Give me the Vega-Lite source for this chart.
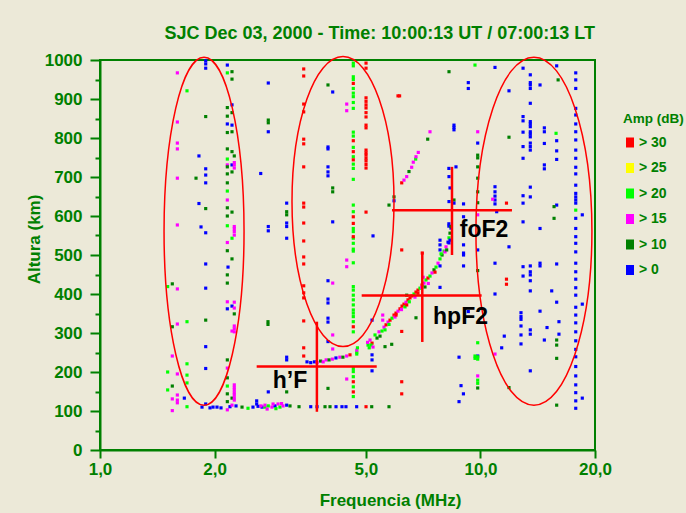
{
  "$schema": "https://vega.github.io/schema/vega-lite/v6.json",
  "width": 495,
  "height": 390,
  "autosize": {"type": "none"},
  "padding": {"left": 100, "top": 60, "right": 91, "bottom": 63},
  "background": "#ece9d8",
  "title": {
    "text": "SJC Dec 03, 2000 - Time: 10:00:13 UT / 07:00:13 LT",
    "anchor": "end",
    "frame": "group",
    "fontSize": 18,
    "fontWeight": "bold",
    "color": "#008000",
    "font": "Liberation Sans",
    "offset": 8
  },
  "config": {
    "font": "Liberation Sans",
    "view": {"stroke": "#008000", "strokeWidth": 2}
  },
  "resolve": {"axis": {"y": "independent"}},
  "datasets": {
    "pts": [
      {"f":1.597,"h":967,"a":15},{"f":1.597,"h":841,"a":15},{"f":1.597,"h":787,"a":15},{"f":1.597,"h":772,"a":15},{"f":1.597,"h":697,"a":15},{"f":1.597,"h":577,"a":15},{"f":1.597,"h":413,"a":15},{"f":1.597,"h":323,"a":15},{"f":1.597,"h":195,"a":15},{"f":1.597,"h":141,"a":15},{"f":1.597,"h":128,"a":15},{"f":1.597,"h":121,"a":15},
      {"f":1.693,"h":921,"a":20},{"f":1.693,"h":329,"a":20},{"f":1.693,"h":221,"a":20},{"f":1.693,"h":192,"a":20},{"f":1.693,"h":172,"a":20},{"f":1.693,"h":111,"a":20},
      {"f":1.788,"h":697,"a":10},{"f":1.820,"h":754,"a":0},{"f":1.820,"h":632,"a":0},{"f":1.843,"h":572,"a":0},
      {"f":1.896,"h":998,"a":0},{"f":1.896,"h":990,"a":0},{"f":1.896,"h":979,"a":0},{"f":1.896,"h":721,"a":0},{"f":1.896,"h":705,"a":0},{"f":1.896,"h":685,"a":0},{"f":1.896,"h":557,"a":0},{"f":1.896,"h":477,"a":0},{"f":1.896,"h":415,"a":0},{"f":1.896,"h":265,"a":0},{"f":1.896,"h":209,"a":0},{"f":1.896,"h":118,"a":0},
      {"f":1.896,"h":855,"a":10},{"f":1.896,"h":619,"a":10},{"f":1.896,"h":333,"a":10},
      {"f":2.161,"h":987,"a":0},{"f":2.161,"h":967,"a":20},{"f":2.161,"h":878,"a":10},{"f":2.161,"h":856,"a":10},{"f":2.161,"h":836,"a":0},{"f":2.161,"h":814,"a":10},{"f":2.161,"h":772,"a":10},{"f":2.161,"h":746,"a":20},{"f":2.161,"h":731,"a":15},{"f":2.161,"h":726,"a":10},{"f":2.161,"h":708,"a":10},{"f":2.161,"h":685,"a":10},{"f":2.161,"h":664,"a":20},{"f":2.161,"h":641,"a":15},{"f":2.161,"h":621,"a":10},{"f":2.161,"h":600,"a":10},{"f":2.161,"h":575,"a":20},{"f":2.161,"h":532,"a":15},{"f":2.161,"h":511,"a":10},{"f":2.161,"h":449,"a":10},{"f":2.161,"h":428,"a":10},{"f":2.161,"h":380,"a":15},{"f":2.161,"h":362,"a":0},{"f":2.161,"h":231,"a":10},{"f":2.161,"h":210,"a":15},{"f":2.161,"h":185,"a":10},{"f":2.161,"h":164,"a":20},{"f":2.161,"h":144,"a":10},{"f":2.161,"h":124,"a":10},{"f":2.161,"h":103,"a":15},{"f":2.17,"h":469,"a":0},
      {"f":2.223,"h":970,"a":10},{"f":2.223,"h":951,"a":10},{"f":2.223,"h":885,"a":0},{"f":2.223,"h":865,"a":10},{"f":2.223,"h":833,"a":0},{"f":2.223,"h":816,"a":10},{"f":2.223,"h":765,"a":10},{"f":2.223,"h":731,"a":0},{"f":2.223,"h":713,"a":10},{"f":2.223,"h":610,"a":10},{"f":2.223,"h":543,"a":20},{"f":2.223,"h":490,"a":10},{"f":2.223,"h":369,"a":0},{"f":2.223,"h":305,"a":15},{"f":2.223,"h":133,"a":10},
      {"f":2.254,"h":754,"a":10},{"f":2.254,"h":737,"a":15},{"f":2.254,"h":731,"a":15},{"f":2.254,"h":723,"a":15},{"f":2.254,"h":573,"a":15},{"f":2.254,"h":567,"a":15},{"f":2.254,"h":560,"a":15},{"f":2.254,"h":551,"a":15},{"f":2.254,"h":379,"a":15},{"f":2.254,"h":364,"a":15},{"f":2.254,"h":349,"a":10},{"f":2.254,"h":318,"a":15},{"f":2.254,"h":311,"a":15},{"f":2.254,"h":303,"a":15},{"f":2.254,"h":167,"a":15},{"f":2.254,"h":160,"a":15},{"f":2.254,"h":154,"a":15},{"f":2.254,"h":147,"a":15},{"f":2.254,"h":141,"a":15},{"f":2.254,"h":134,"a":15},{"f":2.254,"h":128,"a":15},
      {"f":2.645,"h":709,"a":0},
      {"f":1.506,"h":419,"a":20},{"f":1.506,"h":200,"a":20},{"f":1.506,"h":154,"a":20},
      {"f":1.549,"h":426,"a":10},{"f":1.549,"h":316,"a":10},{"f":1.549,"h":241,"a":15},{"f":1.549,"h":164,"a":10},{"f":1.549,"h":131,"a":15},{"f":1.549,"h":101,"a":15},
      {"f":1.666,"h":133,"a":0},
      {"f":1.854,"h":110,"a":0},{"f":1.946,"h":108,"a":0},{"f":1.982,"h":110,"a":0},{"f":2.030,"h":110,"a":0},{"f":2.080,"h":108,"a":0},{"f":2.196,"h":111,"a":0},{"f":2.223,"h":115,"a":15},{"f":2.278,"h":113,"a":0},{"f":2.362,"h":110,"a":10},{"f":2.449,"h":107,"a":20},{"f":2.524,"h":110,"a":0},{"f":2.581,"h":126,"a":0},{"f":2.581,"h":118,"a":0},{"f":2.602,"h":112,"a":0},{"f":2.666,"h":110,"a":0},{"f":2.714,"h":110,"a":20},{"f":2.714,"h":115,"a":15},{"f":2.769,"h":113,"a":20},{"f":2.831,"h":110,"a":15},{"f":2.884,"h":113,"a":0},{"f":2.937,"h":118,"a":15},{"f":2.972,"h":110,"a":20},{"f":3.027,"h":113,"a":15},{"f":3.095,"h":115,"a":0},{"f":3.158,"h":113,"a":10},{"f":2.85,"h":118,"a":15},{"f":2.75,"h":105,"a":15},{"f":2.9,"h":106,"a":20},{"f":3.0,"h":119,"a":15},{"f":2.65,"h":113,"a":15},
      {"f":3.335,"h":111,"a":10},{"f":3.580,"h":111,"a":0},{"f":3.719,"h":111,"a":0},{"f":3.903,"h":111,"a":10},{"f":4.023,"h":111,"a":10},{"f":4.172,"h":111,"a":0},{"f":4.325,"h":111,"a":0},{"f":4.431,"h":111,"a":0},{"f":4.727,"h":111,"a":0},{"f":5.003,"h":111,"a":30},{"f":5.178,"h":111,"a":10},{"f":5.749,"h":111,"a":10},
      {"f":4.632,"h":992,"a":20},{"f":4.632,"h":985,"a":20},{"f":4.632,"h":957,"a":20},{"f":4.632,"h":950,"a":20},{"f":4.632,"h":927,"a":20},{"f":4.632,"h":915,"a":20},{"f":4.632,"h":906,"a":20},{"f":4.632,"h":891,"a":20},{"f":4.632,"h":876,"a":20},{"f":4.632,"h":815,"a":20},{"f":4.632,"h":805,"a":20},{"f":4.632,"h":776,"a":20},{"f":4.632,"h":752,"a":20},{"f":4.632,"h":733,"a":20},{"f":4.632,"h":722,"a":20},{"f":4.632,"h":694,"a":20},{"f":4.632,"h":628,"a":20},{"f":4.632,"h":611,"a":20},{"f":4.632,"h":568,"a":20},{"f":4.632,"h":560,"a":20},{"f":4.632,"h":543,"a":20},{"f":4.632,"h":530,"a":20},{"f":4.632,"h":515,"a":20},{"f":4.632,"h":510,"a":20},{"f":4.632,"h":480,"a":20},{"f":4.632,"h":419,"a":20},{"f":4.632,"h":410,"a":20},{"f":4.632,"h":397,"a":20},{"f":4.632,"h":385,"a":20},{"f":4.632,"h":372,"a":20},{"f":4.632,"h":359,"a":20},{"f":4.632,"h":351,"a":20},{"f":4.632,"h":342,"a":20},{"f":4.632,"h":329,"a":20},{"f":4.632,"h":303,"a":20},{"f":4.632,"h":209,"a":20},{"f":4.632,"h":201,"a":20},{"f":4.632,"h":188,"a":20},{"f":4.632,"h":162,"a":20},{"f":4.632,"h":137,"a":20},
      {"f":4.632,"h":940,"a":30},{"f":4.632,"h":793,"a":30},{"f":4.632,"h":765,"a":30},{"f":4.632,"h":744,"a":30},{"f":4.632,"h":598,"a":30},{"f":4.632,"h":581,"a":30},{"f":4.632,"h":547,"a":30},{"f":4.632,"h":316,"a":30},{"f":4.632,"h":175,"a":30},{"f":4.632,"h":149,"a":30},
      {"f":5.003,"h":992,"a":30},{"f":5.003,"h":979,"a":30},{"f":5.003,"h":903,"a":30},{"f":5.003,"h":894,"a":30},{"f":5.003,"h":885,"a":30},{"f":5.003,"h":877,"a":30},{"f":5.003,"h":865,"a":30},{"f":5.003,"h":854,"a":30},{"f":5.003,"h":833,"a":30},{"f":5.003,"h":826,"a":30},{"f":5.003,"h":769,"a":30},{"f":5.003,"h":762,"a":30},{"f":5.003,"h":756,"a":30},{"f":5.003,"h":748,"a":30},{"f":5.003,"h":741,"a":30},{"f":5.003,"h":732,"a":30},{"f":5.003,"h":723,"a":30},{"f":5.003,"h":610,"a":30},
      {"f":3.431,"h":977,"a":30},{"f":3.431,"h":959,"a":30},{"f":3.431,"h":887,"a":30},{"f":3.431,"h":867,"a":30},{"f":3.431,"h":797,"a":30},{"f":3.431,"h":785,"a":30},{"f":3.431,"h":726,"a":30},{"f":3.431,"h":633,"a":30},{"f":3.431,"h":623,"a":30},{"f":3.431,"h":582,"a":30},{"f":3.431,"h":536,"a":30},{"f":3.431,"h":495,"a":30},{"f":3.431,"h":477,"a":30},{"f":3.431,"h":421,"a":30},{"f":3.431,"h":403,"a":30},{"f":3.431,"h":390,"a":30},{"f":3.431,"h":331,"a":30},{"f":3.431,"h":262,"a":30},{"f":3.431,"h":241,"a":30},
      {"f":3.974,"h":936,"a":10},{"f":3.974,"h":777,"a":0},{"f":3.974,"h":772,"a":0},{"f":3.974,"h":726,"a":0},{"f":3.974,"h":713,"a":0},{"f":3.974,"h":703,"a":0},{"f":3.974,"h":434,"a":0},{"f":3.974,"h":387,"a":0},{"f":3.974,"h":377,"a":0},{"f":3.974,"h":338,"a":0},{"f":3.974,"h":328,"a":0},{"f":3.974,"h":278,"a":0},{"f":3.974,"h":158,"a":10},
      {"f":4.089,"h":918,"a":0},{"f":4.089,"h":672,"a":10},{"f":4.089,"h":662,"a":10},{"f":4.089,"h":585,"a":0},{"f":4.089,"h":428,"a":15},{"f":4.089,"h":295,"a":15},{"f":4.089,"h":259,"a":15},
      {"f":4.451,"h":887,"a":15},{"f":4.451,"h":870,"a":15},{"f":4.451,"h":487,"a":15},{"f":4.451,"h":470,"a":15},{"f":4.451,"h":182,"a":15},
      {"f":2.769,"h":941,"a":0},{"f":2.769,"h":846,"a":10},{"f":2.769,"h":839,"a":10},{"f":2.769,"h":816,"a":0},{"f":2.769,"h":573,"a":0},{"f":2.769,"h":562,"a":0},{"f":2.764,"h":329,"a":10},{"f":2.764,"h":322,"a":10},{"f":2.769,"h":149,"a":0},
      {"f":3.095,"h":633,"a":0},{"f":3.095,"h":611,"a":10},{"f":3.095,"h":603,"a":10},{"f":3.095,"h":582,"a":0},{"f":3.095,"h":573,"a":0},{"f":3.095,"h":543,"a":0},{"f":3.095,"h":238,"a":0},{"f":3.095,"h":231,"a":0},{"f":3.095,"h":149,"a":10},
      {"f":6.071,"h":908,"a":30},{"f":6.13,"h":908,"a":30},{"f":6.209,"h":513,"a":30},{"f":7.03,"h":505,"a":30},
      {"f":5.749,"h":628,"a":10},{"f":5.926,"h":639,"a":0},{"f":5.926,"h":649,"a":10},{"f":5.219,"h":549,"a":0},
      {"f":6.209,"h":685,"a":30},{"f":6.295,"h":692,"a":15},{"f":6.399,"h":701,"a":15},{"f":6.488,"h":714,"a":10},{"f":6.595,"h":725,"a":15},{"f":6.659,"h":738,"a":15},{"f":6.756,"h":746,"a":20},{"f":6.769,"h":752,"a":15},{"f":6.864,"h":763,"a":15},{"f":7.266,"h":797,"a":10},{"f":7.368,"h":816,"a":15},
      {"f":3.50,"h":226,"a":0},{"f":3.58,"h":224,"a":0},{"f":3.66,"h":226,"a":0},{"f":3.72,"h":224,"a":15},{"f":3.80,"h":228,"a":10},{"f":3.86,"h":226,"a":15},{"f":3.93,"h":231,"a":15},{"f":4.00,"h":231,"a":10},{"f":4.08,"h":233,"a":15},{"f":4.17,"h":236,"a":0},{"f":4.27,"h":238,"a":15},{"f":4.35,"h":238,"a":10},{"f":4.45,"h":241,"a":15},{"f":4.54,"h":244,"a":30},{"f":4.73,"h":246,"a":20},{"f":4.73,"h":251,"a":20},{"f":4.73,"h":256,"a":15},{"f":4.75,"h":262,"a":20},
      {"f":5.064,"h":269,"a":20},{"f":5.125,"h":282,"a":15},{"f":5.188,"h":274,"a":30},{"f":5.283,"h":295,"a":20},{"f":5.347,"h":287,"a":10},{"f":5.412,"h":303,"a":15},{"f":5.511,"h":305,"a":20},{"f":5.578,"h":315,"a":15},{"f":5.647,"h":321,"a":30},{"f":5.716,"h":328,"a":15},{"f":5.785,"h":333,"a":30},{"f":5.855,"h":338,"a":20},{"f":5.926,"h":346,"a":30},{"f":5.998,"h":351,"a":30},{"f":6.071,"h":356,"a":15},{"f":6.145,"h":362,"a":30},{"f":6.221,"h":369,"a":30},{"f":6.295,"h":374,"a":30},{"f":6.372,"h":379,"a":15},{"f":6.449,"h":385,"a":30},{"f":6.528,"h":390,"a":30},{"f":6.607,"h":395,"a":30},{"f":6.688,"h":400,"a":20},{"f":6.769,"h":405,"a":30},{"f":6.851,"h":410,"a":30},{"f":6.935,"h":415,"a":20},{"f":7.019,"h":423,"a":30},{"f":7.104,"h":428,"a":15},{"f":7.191,"h":436,"a":20},{"f":7.279,"h":441,"a":30},{"f":7.368,"h":446,"a":20},{"f":7.458,"h":454,"a":15},{"f":7.549,"h":462,"a":10},{"f":7.641,"h":469,"a":20},{"f":7.735,"h":479,"a":15},{"f":7.828,"h":490,"a":20},{"f":7.925,"h":500,"a":10},{"f":8.021,"h":510,"a":20},{"f":8.118,"h":521,"a":15},{"f":8.217,"h":533,"a":0},{"f":8.266,"h":544,"a":20},{"f":8.316,"h":556,"a":10},{"f":8.366,"h":569,"a":0},
      {"f":5.445,"h":292,"a":10},{"f":5.612,"h":308,"a":20},{"f":5.962,"h":341,"a":15},{"f":6.334,"h":367,"a":20},{"f":6.728,"h":392,"a":15},{"f":7.148,"h":418,"a":10},{"f":7.595,"h":456,"a":30},{"f":8.069,"h":508,"a":15},{"f":5.156,"h":269,"a":20},{"f":5.219,"h":264,"a":15},{"f":5.10,"h":262,"a":20},{"f":5.05,"h":276,"a":15},{"f":6.0,"h":346,"a":30},{"f":6.4,"h":372,"a":30},{"f":6.5,"h":380,"a":20},{"f":6.2,"h":360,"a":15},{"f":5.75,"h":322,"a":20},{"f":6.85,"h":402,"a":30},{"f":7.0,"h":417,"a":15},
      {"f":6.209,"h":304,"a":30},{"f":6.209,"h":175,"a":30},{"f":6.209,"h":144,"a":30},{"f":6.399,"h":397,"a":10},{"f":6.769,"h":339,"a":10},{"f":5.844,"h":271,"a":10},{"f":5.612,"h":265,"a":10},{"f":5.535,"h":346,"a":15},{"f":5.535,"h":333,"a":15},{"f":5.188,"h":333,"a":0},{"f":5.188,"h":244,"a":0},{"f":5.188,"h":231,"a":0},{"f":5.188,"h":203,"a":0},{"f":7.07,"h":443,"a":15},{"f":7.293,"h":427,"a":15},
      {"f":8.266,"h":701,"a":0},{"f":8.26,"h":722,"a":0},{"f":8.316,"h":672,"a":0},{"f":8.266,"h":637,"a":0},{"f":8.519,"h":641,"a":10},{"f":8.519,"h":633,"a":0},{"f":8.26,"h":580,"a":0},{"f":8.26,"h":574,"a":0},{"f":8.366,"h":573,"a":10},{"f":8.316,"h":538,"a":0},{"f":8.266,"h":531,"a":0},{"f":7.828,"h":538,"a":0},{"f":7.828,"h":526,"a":0},{"f":7.828,"h":513,"a":0},{"f":8.152,"h":513,"a":10},{"f":7.877,"h":503,"a":20},{"f":8.623,"h":726,"a":0},{"f":8.519,"h":833,"a":0},{"f":8.519,"h":827,"a":0},{"f":8.519,"h":821,"a":0},{"f":8.266,"h":970,"a":10},{"f":9.674,"h":987,"a":20},{"f":9.29,"h":942,"a":0},{"f":9.29,"h":927,"a":0},{"f":10.919,"h":981,"a":0},
      {"f":9.834,"h":816,"a":15},{"f":9.834,"h":787,"a":0},{"f":9.834,"h":756,"a":10},{"f":9.834,"h":749,"a":10},{"f":9.834,"h":726,"a":10},{"f":9.834,"h":697,"a":10},{"f":9.834,"h":662,"a":10},{"f":9.834,"h":634,"a":10},{"f":9.834,"h":603,"a":15},{"f":9.834,"h":513,"a":0},
      {"f":11.884,"h":921,"a":0},{"f":11.884,"h":802,"a":10},{"f":10.919,"h":675,"a":0},{"f":10.919,"h":662,"a":0},{"f":10.919,"h":651,"a":0},{"f":10.919,"h":641,"a":0},{"f":10.919,"h":631,"a":0},{"f":10.768,"h":643,"a":15},{"f":11.705,"h":633,"a":30},{"f":11.032,"h":611,"a":0},{"f":9.026,"h":631,"a":0},{"f":9.026,"h":598,"a":0},{"f":9.026,"h":526,"a":0},{"f":9.026,"h":505,"a":0},{"f":11.884,"h":521,"a":0},
      {"f":9.834,"h":460,"a":10},{"f":9.834,"h":275,"a":20},{"f":9.834,"h":241,"a":0},{"f":9.834,"h":239,"a":20},{"f":9.834,"h":233,"a":20},{"f":9.834,"h":190,"a":15},{"f":9.834,"h":179,"a":20},{"f":9.834,"h":171,"a":20},{"f":9.834,"h":159,"a":10},{"f":9.674,"h":241,"a":20},{"f":9.674,"h":235,"a":20},
      {"f":9.29,"h":355,"a":0},{"f":9.026,"h":500,"a":0},{"f":9.026,"h":472,"a":0},{"f":8.783,"h":238,"a":0},{"f":8.783,"h":124,"a":0},{"f":8.89,"h":165,"a":0},{"f":9.02,"h":144,"a":0},{"f":11.705,"h":438,"a":30},{"f":11.705,"h":425,"a":30},{"f":7.828,"h":472,"a":0},{"f":7.828,"h":417,"a":0},
      {"f":11.55,"h":292,"a":0},{"f":11.37,"h":262,"a":0},{"f":10.919,"h":479,"a":0},{"f":10.919,"h":400,"a":0},{"f":10.919,"h":246,"a":15},{"f":11.884,"h":160,"a":10},
      {"f":12.94,"h":979,"a":0},{"f":12.94,"h":855,"a":0},{"f":12.94,"h":844,"a":0},{"f":12.94,"h":815,"a":0},{"f":12.94,"h":778,"a":0},{"f":12.94,"h":748,"a":0},{"f":12.94,"h":652,"a":0},{"f":12.94,"h":633,"a":0},{"f":12.94,"h":585,"a":0},{"f":12.94,"h":470,"a":0},{"f":12.94,"h":446,"a":0},
      {"f":12.78,"h":352,"a":0},{"f":12.78,"h":342,"a":0},{"f":12.78,"h":335,"a":0},{"f":12.78,"h":318,"a":0},{"f":12.78,"h":295,"a":0},{"f":12.78,"h":272,"a":0},
      {"f":13.52,"h":962,"a":0},{"f":13.52,"h":942,"a":0},{"f":13.52,"h":936,"a":0},{"f":13.52,"h":927,"a":0},{"f":13.52,"h":889,"a":0},{"f":13.52,"h":842,"a":0},{"f":13.52,"h":836,"a":0},{"f":13.52,"h":829,"a":0},{"f":13.52,"h":816,"a":0},{"f":13.52,"h":810,"a":0},{"f":13.52,"h":803,"a":0},{"f":13.52,"h":787,"a":0},{"f":13.52,"h":778,"a":0},{"f":13.52,"h":769,"a":0},{"f":13.52,"h":674,"a":0},{"f":13.52,"h":649,"a":0},{"f":13.52,"h":472,"a":0},{"f":13.52,"h":457,"a":0},{"f":13.52,"h":449,"a":0},{"f":13.52,"h":434,"a":0},{"f":13.52,"h":408,"a":0},{"f":13.52,"h":308,"a":0},{"f":13.52,"h":297,"a":0},{"f":13.52,"h":203,"a":0},
      {"f":14.34,"h":936,"a":0},{"f":14.34,"h":568,"a":0},{"f":14.34,"h":479,"a":0},{"f":14.34,"h":472,"a":0},{"f":14.34,"h":356,"a":0},
      {"f":14.72,"h":826,"a":0},{"f":14.72,"h":816,"a":0},{"f":14.72,"h":786,"a":0},{"f":14.72,"h":731,"a":0},{"f":14.72,"h":721,"a":0},{"f":14.72,"h":282,"a":0},
      {"f":15.86,"h":985,"a":0},{"f":15.86,"h":793,"a":0},{"f":15.86,"h":767,"a":0},{"f":15.86,"h":745,"a":0},{"f":15.86,"h":628,"a":0},{"f":15.86,"h":477,"a":0},{"f":15.86,"h":379,"a":0},
      {"f":16.0,"h":949,"a":10},{"f":15.61,"h":624,"a":10},{"f":15.61,"h":594,"a":10},{"f":15.86,"h":282,"a":10},{"f":15.86,"h":269,"a":10},{"f":15.86,"h":235,"a":10},{"f":15.86,"h":115,"a":10},{"f":15.80,"h":812,"a":20},
      {"f":16.08,"h":329,"a":0},{"f":16.08,"h":297,"a":0},{"f":15.39,"h":408,"a":0},{"f":14.96,"h":314,"a":0},
      {"f":17.8,"h":967,"a":0},{"f":17.8,"h":949,"a":0},{"f":17.8,"h":927,"a":0},{"f":17.8,"h":876,"a":0},{"f":17.8,"h":859,"a":0},{"f":17.8,"h":836,"a":0},{"f":17.8,"h":816,"a":0},{"f":17.8,"h":795,"a":0},{"f":17.8,"h":769,"a":0},{"f":17.8,"h":748,"a":0},{"f":17.8,"h":725,"a":0},{"f":17.8,"h":708,"a":0},{"f":17.8,"h":679,"a":0},{"f":17.8,"h":658,"a":0},{"f":17.8,"h":649,"a":0},{"f":17.8,"h":641,"a":0},{"f":17.8,"h":633,"a":0},{"f":17.8,"h":615,"a":20},{"f":17.8,"h":594,"a":0},{"f":17.8,"h":568,"a":0},{"f":17.8,"h":547,"a":0},{"f":17.8,"h":530,"a":0},{"f":17.8,"h":508,"a":0},{"f":17.8,"h":479,"a":0},{"f":17.8,"h":457,"a":0},{"f":17.8,"h":438,"a":0},{"f":17.8,"h":416,"a":0},{"f":17.8,"h":397,"a":0},{"f":17.8,"h":366,"a":0},{"f":17.8,"h":346,"a":0},{"f":17.8,"h":326,"a":0},{"f":17.8,"h":303,"a":0},{"f":17.8,"h":280,"a":0},{"f":17.8,"h":258,"a":0},{"f":17.8,"h":239,"a":0},{"f":17.8,"h":214,"a":0},{"f":17.8,"h":190,"a":0},{"f":17.8,"h":167,"a":0},{"f":17.8,"h":147,"a":0},{"f":17.8,"h":126,"a":0},{"f":17.8,"h":107,"a":0},
      {"f":18.52,"h":603,"a":0},{"f":18.52,"h":374,"a":0},{"f":18.52,"h":133,"a":0}
    ],
    "ell": [
      {"id":"e1","f":1.877,"h":561},
      {"id":"e2","f":4.352,"h":637},
      {"id":"e3","f":13.82,"h":561}
    ],
    "lines": [
      {"f1":2.581,"f2":5.337,"h1":214,"h2":214},
      {"f1":3.716,"f2":3.716,"h1":98,"h2":329},
      {"f1":4.873,"f2":10.07,"h1":396,"h2":396},
      {"f1":7.032,"f2":7.032,"h1":277,"h2":508},
      {"f1":5.855,"f2":12.10,"h1":615,"h2":615},
      {"f1":8.417,"f2":8.417,"h1":500,"h2":726}
    ],
    "labels": [
      {"t":"h\u2019F","f":3.158,"h":177},
      {"t":"hpF2","f":8.862,"h":341},
      {"t":"foF2","f":10.216,"h":564}
    ]
  },
  "layer": [
    {
      "data": {"name": "pts"},
      "mark": {"type": "square", "size": 10, "opacity": 1},
      "encoding": {
        "x": {
          "field": "f", "type": "quantitative",
          "scale": {"type": "log", "domain": [1, 20], "nice": false},
          "axis": {
            "values": [1, 2, 5, 10, 20],
            "labelExpr": "replace(format(datum.value, '.1f'), '.', ',')",
            "title": "Frequencia (MHz)",
            "grid": false,
            "tickSize": 8,
            "tickWidth": 2,
            "tickColor": "#008000",
            "domainColor": "#008000",
            "domainWidth": 2,
            "labelPadding": 3,
            "labelFontSize": 17,
            "labelFontWeight": "bold",
            "labelColor": "#008000",
            "labelFlush": false,
            "labelOverlap": false,
            "titleFontSize": 17,
            "titleFontWeight": "bold",
            "titleColor": "#008000",
            "titleX": 290,
            "titleY": 50,
            "titleBaseline": "middle",
            "titleAlign": "center"
          }
        },
        "y": {
          "field": "h", "type": "quantitative",
          "scale": {"domain": [0, 1000], "nice": false},
          "axis": {
            "orient": "left",
            "values": [0, 100, 200, 300, 400, 500, 600, 700, 800, 900, 1000],
            "format": "d",
            "title": "Altura (km)",
            "grid": false,
            "tickSize": 10,
            "tickWidth": 2,
            "tickColor": "#008000",
            "domainColor": "#008000",
            "domainWidth": 2,
            "labelPadding": 8,
            "labelFontSize": 17,
            "labelFontWeight": "bold",
            "labelColor": "#008000",
            "labelOverlap": false,
            "labelFlush": false,
            "titleFontSize": 17,
            "titleFontWeight": "bold",
            "titleColor": "#008000",
            "titleAngle": 270,
            "titleX": -66,
            "titleY": 179,
            "titleBaseline": "middle",
            "titleAlign": "center"
          }
        },
        "color": {
          "field": "a", "type": "nominal",
          "scale": {"domain": [30, 25, 20, 15, 10, 0], "range": ["#ff0000", "#ffff00", "#00ff00", "#ff00ff", "#008000", "#0000ff"]},
          "legend": {
            "title": "Amp (dB)",
            "orient": "none",
            "legendX": 523,
            "legendY": 52,
            "padding": 0,
            "titleFontSize": 13.5,
            "titleFontWeight": "bold",
            "titleColor": "#008000",
            "titlePadding": 10,
            "labelFontSize": 14,
            "labelFontWeight": "bold",
            "labelColor": "#008000",
            "labelExpr": "'> ' + datum.label",
            "labelOffset": 2,
            "symbolType": "M-0.8,-1H0.8V1H-0.8Z",
            "symbolSize": 100,
            "symbolStrokeWidth": 0,
            "symbolOpacity": 1,
            "rowPadding": 11.5
          }
        }
      }
    },
    {
      "data": {"name": "ell"},
      "mark": {"type": "point", "filled": false, "color": "#ff0000", "strokeWidth": 1.5, "size": 4, "opacity": 1},
      "encoding": {
        "x": {"field": "f", "type": "quantitative"},
        "y": {"field": "h", "type": "quantitative", "axis": null},
        "shape": {
          "field": "id", "type": "nominal",
          "scale": {
            "domain": ["e1", "e2", "e3"],
            "range": [
              "M-40,0A40,174,0,1,0,40,0A40,174,0,1,0,-40,0Z",
              "M-51,0A51,145,0,1,0,51,0A51,145,0,1,0,-51,0Z",
              "M-58,0A58,174,0,1,0,58,0A58,174,0,1,0,-58,0Z"
            ]
          },
          "legend": null
        }
      }
    },
    {
      "data": {"name": "lines"},
      "mark": {"type": "rule", "color": "#ff0000", "strokeWidth": 2.5},
      "encoding": {
        "x": {"field": "f1", "type": "quantitative"},
        "x2": {"field": "f2"},
        "y": {
          "field": "h1", "type": "quantitative",
          "axis": {
            "orient": "left",
            "values": [50, 150, 250, 350, 450, 550, 650, 750, 850, 950],
            "labels": false,
            "domain": false,
            "grid": false,
            "title": null,
            "tickSize": 5,
            "tickWidth": 2,
            "tickColor": "#008000"
          }
        },
        "y2": {"field": "h2"}
      }
    },
    {
      "data": {"name": "labels"},
      "mark": {"type": "text", "fontSize": 23, "fontWeight": "bold", "color": "#000000", "font": "Liberation Sans"},
      "encoding": {
        "x": {"field": "f", "type": "quantitative"},
        "y": {"field": "h", "type": "quantitative", "axis": null},
        "text": {"field": "t"}
      }
    }
  ]
}
